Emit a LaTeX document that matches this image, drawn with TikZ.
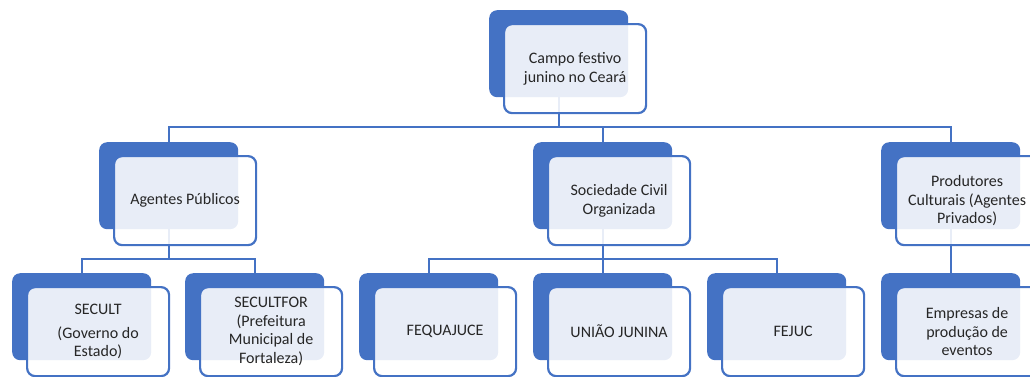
\documentclass[tikz,border=0pt]{standalone}
\usepackage{fontspec}
\setmainfont{Carlito}
\definecolor{obl}{HTML}{4472C4}
\definecolor{otx}{HTML}{262626}
\tikzset{
 backbox/.style={fill=obl, rounded corners=8pt, minimum width=139pt, minimum height=87pt, anchor=north west, inner sep=0pt},
 frontbox/.style={draw=obl, line width=2.2pt, fill=white, fill opacity=0.88, text opacity=1, rounded corners=8pt, minimum width=142pt, minimum height=89pt, anchor=north west, align=center, text=otx, font=\fontsize{16}{18.5}\selectfont, inner sep=2pt},
 conn/.style={draw=obl, line width=2pt}
}
\newcommand\obback[3]{\node[backbox] (#1B) at (#2,#3) {};}
\newcommand\obfront[4]{\node[frontbox] (#1) at (#2+14,#3+13) {#4};}
\begin{document}
\begin{tikzpicture}[x=1pt,y=-1pt]
\useasboundingbox (0,0) rectangle (1030,376);
\clip (0,0) rectangle (1030,376);
% back boxes
\obback{top}{489}{10}
\obback{ag}{99}{142}
\obback{sc}{533}{142}
\obback{pr}{881}{142}
\obback{se}{12}{273}
\obback{sf}{185}{273}
\obback{fq}{359}{273}
\obback{un}{533}{273}
\obback{fj}{707}{273}
\obback{em}{881}{273}
% connectors
\coordinate (barA) at (0,127);
\coordinate (barB) at (0,259);
\draw[conn] (topB.south) -- (topB.south |- barA);
\draw[conn] (agB.north) -- (agB.north |- barA) -- (prB.north |- barA) -- (prB.north);
\draw[conn] (scB.north) -- (scB.north |- barA);
\draw[conn] (agB.south) -- (agB.south |- barB);
\draw[conn] (seB.north) -- (seB.north |- barB) -- (sfB.north |- barB) -- (sfB.north);
\draw[conn] (scB.south) -- (scB.south |- barB);
\draw[conn] (fqB.north) -- (fqB.north |- barB) -- (fjB.north |- barB) -- (fjB.north);
\draw[conn] (unB.north) -- (unB.north |- barB);
\draw[conn] (prB.south) -- (emB.north);
% front boxes
\obfront{top}{489}{10}{Campo festivo\\junino no Ceará}
\obfront{ag}{99}{142}{Agentes Públicos}
\obfront{sc}{533}{142}{Sociedade Civil\\Organizada}
\obfront{pr}{881}{142}{Produtores\\Culturais (Agentes\\Privados)}
\obfront{se}{12}{273}{SECULT\\[5pt](Governo do\\Estado)}
\obfront{sf}{185}{273}{SECULTFOR\\(Prefeitura\\Municipal de\\Fortaleza)}
\obfront{fq}{359}{273}{FEQUAJUCE}
\obfront{un}{533}{273}{UNIÃO JUNINA}
\obfront{fj}{707}{273}{FEJUC}
\obfront{em}{881}{273}{Empresas de\\produção de\\eventos}
\end{tikzpicture}
\end{document}
